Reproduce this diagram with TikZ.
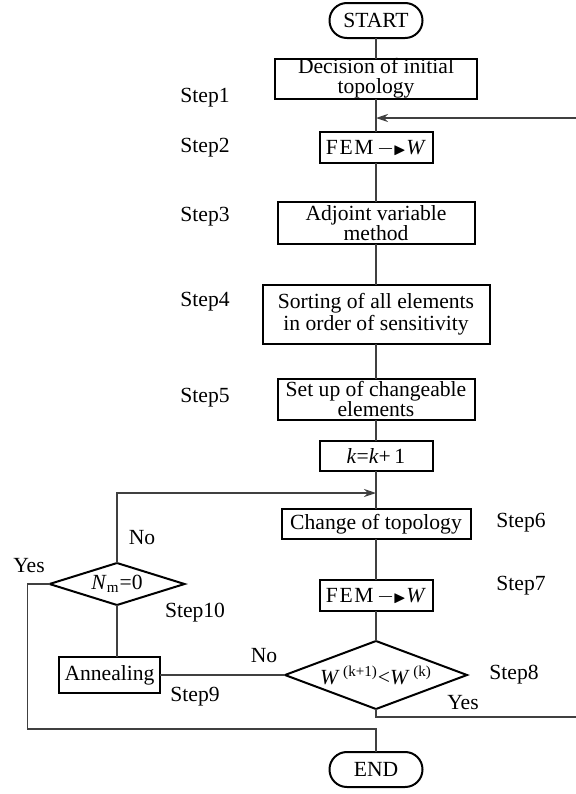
\documentclass[tikz,border=0pt]{standalone}
\usepackage{amssymb}
\usepackage{fontspec}
\setmainfont{Liberation Serif}
\usetikzlibrary{arrows.meta,positioning,shapes.geometric}

\newcommand{\femw}{F\kern0.8pt E\kern0.8pt M\,$\relbar\mkern-6mu{\scriptstyle\blacktriangleright}$\textit{W}}

\begin{document}
\begin{tikzpicture}[
    x=0.5pt, y=-0.5pt,
    font=\fontsize{10.8}{11}\selectfont,
    box/.style n args={2}{draw, line width=1pt, align=center, inner sep=0pt, outer sep=0pt, minimum width=#1, minimum height=#2},
    term/.style={box={46.5pt}{17.5pt}, rounded corners=8.7pt},
    tight/.style={font=\fontsize{10.8}{10}\selectfont},
    test/.style n args={2}{draw, line width=1pt, diamond, inner sep=0pt, outer sep=0pt, minimum width=#1, minimum height=#2},
    steplabel/.style={inner sep=0pt},
    line/.style={line width=0.8pt, black!75},
    link/.style={line, -{Stealth[length=6pt, width=4pt]}}
]
\useasboundingbox (0,0) rectangle (576,794);

% main column
\node[term] (start) at (376,20.5) {START};
\node[box={101pt}{20pt}, tight, below=10.25pt of start] (init) {Decision of initial\\topology};
\node[box={56.5pt}{15.5pt}, below=16.75pt of init] (fem) {\femw};
\node[box={98.5pt}{21pt}, tight, below=19.5pt of fem] (adjoint) {Adjoint variable\\method};
\node[box={113.5pt}{29.5pt}, below=20.5pt of adjoint] (sorting) {Sorting of all elements\\in order of sensitivity};
\node[box={98.5pt}{20.5pt}, tight, below=17.25pt of sorting] (setup) {Set up of changeable\\elements};
\node[box={56.5pt}{15pt}, below=10.75pt of setup] (kinc) {\textit{k}=\textit{k}+\,1};
\node[box={94.5pt}{15pt}, below=19pt of kinc] (change) {Change of topology};
\node[box={56.5pt}{15.5pt}, below=20.5pt of change] (fem2) {\femw};
\node[test={91pt}{34pt}, below=15pt of fem2] (judge) {\makebox[0pt]{\textit{W}\,\textsuperscript{(k+1)}<\textit{W}\,\textsuperscript{(k)}}};
\node[term, below=21.5pt of judge] (end) {END};

% side branch
\node[box={50.5pt}{18pt}, left=62.5pt of judge] (anneal) {Annealing};
\node[test={67.5pt}{21pt}, above=26pt of anneal, xshift=3.75pt] (check) {\makebox[0pt]{\textit{N}\textsubscript{m}=0}};

% step labels
\foreach \i/\y in {1/98, 2/148, 3/217, 4/302, 5/398}
    \node[steplabel] (s\i) at (205,\y) {Step\i};
\node[steplabel] (s6) at (521,523) {Step6};
\node[steplabel] (s7) at (521,586) {Step7};
\node[steplabel] (s8) at (514,675) {Step8};
\node[steplabel] (s9) at (195,697) {Step9};
\node[steplabel] (s10) at (195,613) {Step10};
\node[steplabel] (no1) at (142,538) {No};
\node[steplabel] (no2) at (264,656) {No};
\node[steplabel] (yes1) at (29,566) {Yes};
\node[steplabel] (yes2) at (463,703) {Yes};

% connectors
\foreach \a/\b in {start/init, init/fem, fem/adjoint, adjoint/sorting, sorting/setup, setup/kinc, kinc/change, change/fem2, fem2/judge}
    \draw[line] (\a) -- (\b);
\coordinate (loopin) at (576,118);
\coordinate (loopout) at (576,717);
\draw[link] (loopin) -- (loopin -| init.south);
\draw[line] (judge.south) |- (loopout);
\draw[line] (judge.west) -- (anneal.east);
\draw[line] (check.south) -- (check.south |- anneal.north);
\draw[link] (check.north) |- ([yshift=-11pt]kinc.south);
\draw[line] (check.west) -- ++(-11pt,0) |- ([yshift=-10pt]judge.south) -- (end.north);
\end{tikzpicture}
\end{document}
